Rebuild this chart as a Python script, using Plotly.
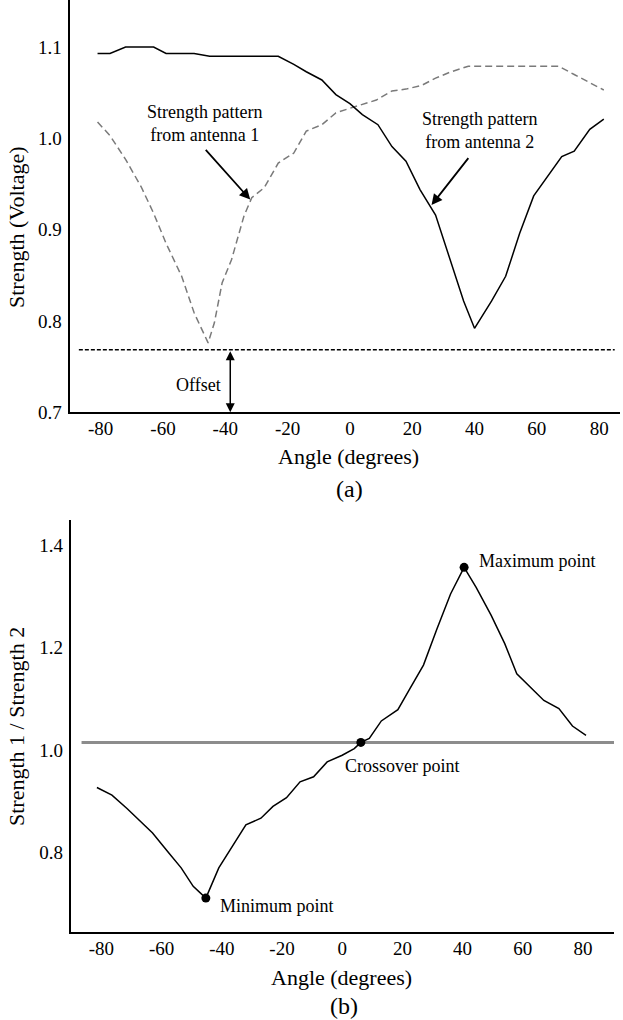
import plotly.graph_objects as go

# ---------------- data: panel (a) ----------------
ant1_angle = [-81, -77, -72, -67, -63, -59, -54, -50, -45.5, -43.5,
              -41, -38, -34, -31.5, -27.5, -23, -18, -14, -9, -4.5,
              0, 4, 8.5, 13.5, 18, 23, 27.5, 32.5, 38, 42,
              67, 72, 77, 81.5]
ant1_strength = [1.018, 1.003, 0.977, 0.947, 0.918, 0.885, 0.849, 0.809, 0.776, 0.798,
                 0.842, 0.867, 0.915, 0.935, 0.946, 0.973, 0.984, 1.008, 1.015, 1.028,
                 1.033, 1.037, 1.042, 1.052, 1.054, 1.058, 1.066, 1.073, 1.079, 1.079,
                 1.079, 1.070, 1.061, 1.053]

ant2_angle = [-81, -77, -72, -63, -59, -50, -45, -23, -18, -14,
              -9, -4.5, 0, 4, 9, 13.5, 18, 22.5, 27.5, 32,
              36.5, 40, 45.5, 50, 54.5, 59, 63.5, 68, 72, 77,
              81.5]
ant2_strength = [1.093, 1.093, 1.100, 1.100, 1.093, 1.093, 1.090, 1.090, 1.081, 1.073,
                 1.064, 1.048, 1.038, 1.026, 1.015, 0.991, 0.975, 0.944, 0.916, 0.869,
                 0.822, 0.792, 0.822, 0.849, 0.896, 0.937, 0.958, 0.980, 0.986, 1.010,
                 1.021]

offset_level = 0.7686
offset_x = [-87, 85]
offset_arrow_angle = -38.4

# ---------------- data: panel (b) ----------------
ratio_angle = [-81.5, -76.5, -71.5, -67.5, -63, -58, -53.5, -49.5, -45.3, -41,
               -36.5, -32, -27, -23, -18.5, -14, -9.5, -5, 0, 4,
               6.2, 9, 13, 18.5, 22.5, 27, 31.5, 36, 40.5, 44.5,
               49.5, 54, 58, 62.5, 67, 72, 76.5, 81]
ratio_value = [0.927, 0.912, 0.886, 0.864, 0.838, 0.802, 0.770, 0.734, 0.711, 0.770,
               0.812, 0.854, 0.867, 0.890, 0.907, 0.938, 0.948, 0.977, 0.990, 1.003,
               1.015, 1.023, 1.057, 1.079, 1.120, 1.166, 1.237, 1.305, 1.357, 1.318,
               1.263, 1.208, 1.149, 1.123, 1.097, 1.081, 1.047, 1.029]

key_angle = [-45.3, 6.2, 40.5]
key_value = [0.711, 1.015, 1.357]

crossover_level = 1.015
crossover_x = [-86.6, 90.3]

# ---------------- tick labels ----------------
x_tickvals = [-80, -60, -40, -20, 0, 20, 40, 60, 80]
x_ticktext = ["-80", "-60", "-40", "-20", "0", "20", "40", "60", "80"]
ya_tickvals = [0.7, 0.8, 0.9, 1.0, 1.1]
ya_ticktext = ["0.7", "0.8", "0.9", "1.0", "1.1"]
yb_tickvals = [0.8, 1.0, 1.2, 1.4]
yb_ticktext = ["0.8", "1.0", "1.2", "1.4"]

FONT = "Liberation Serif, Times New Roman, serif"
W, H = 623, 1020


def px(x):
    return x / W


def py(y):
    return 1 - y / H


fig = go.Figure()

# panel (a)
fig.add_trace(go.Scatter(x=ant1_angle, y=ant1_strength, mode="lines",
                         line=dict(color="#7a7a7a", width=1.5, dash="7px,4px"),
                         xaxis="x", yaxis="y", showlegend=False))
fig.add_trace(go.Scatter(x=ant2_angle, y=ant2_strength, mode="lines",
                         line=dict(color="black", width=1.5),
                         xaxis="x", yaxis="y", showlegend=False))
fig.add_trace(go.Scatter(x=offset_x, y=[offset_level, offset_level], mode="lines",
                         line=dict(color="black", width=1.5, dash="4px,2px"),
                         xaxis="x", yaxis="y", showlegend=False))

# panel (b)
fig.add_trace(go.Scatter(x=crossover_x, y=[crossover_level, crossover_level], mode="lines",
                         line=dict(color="#8c8c8c", width=3),
                         xaxis="x2", yaxis="y2", showlegend=False))
fig.add_trace(go.Scatter(x=ratio_angle, y=ratio_value, mode="lines",
                         line=dict(color="black", width=1.5),
                         xaxis="x2", yaxis="y2", showlegend=False))
fig.add_trace(go.Scatter(x=key_angle, y=key_value, mode="markers",
                         marker=dict(color="black", size=9),
                         xaxis="x2", yaxis="y2", showlegend=False))

axis_common = dict(showline=True, linecolor="black", linewidth=2, showgrid=False,
                   zeroline=False, ticks="", automargin=False,
                   tickfont=dict(family=FONT, size=19, color="black"))

fig.update_layout(
    template="none",
    width=W, height=H,
    margin=dict(l=0, r=0, t=0, b=0, pad=0),
    paper_bgcolor="white", plot_bgcolor="white",
    xaxis=dict(domain=[px(69.5), px(620)], range=[-90, 86.7], anchor="y",
               tickmode="array", tickvals=x_tickvals, ticktext=x_ticktext,
               ticklabelstandoff=-2, **axis_common),
    yaxis=dict(domain=[py(412.3), 1.0], range=[0.7, 1.1516], anchor="x",
               tickmode="array", tickvals=ya_tickvals, ticktext=ya_ticktext,
               ticklabelstandoff=2, **axis_common),
    xaxis2=dict(domain=[px(70.7), px(614)], range=[-90.2, 90.3], anchor="y2",
                tickmode="array", tickvals=x_tickvals, ticktext=x_ticktext,
                ticklabelstandoff=-2, **axis_common),
    yaxis2=dict(domain=[py(932), py(520)], range=[0.6448, 1.4494], anchor="x2",
                tickmode="array", tickvals=yb_tickvals, ticktext=yb_ticktext,
                ticklabelstandoff=2, **axis_common),
)

ann = []
tf = dict(family=FONT, size=18, color="black")
# panel (a) labels and arrows
ann.append(dict(x=-46.7, y=1.016, xref="x", yref="y", text="Strength pattern<br>from antenna 1",
                showarrow=False, font=tf, align="center", xanchor="center", yanchor="middle"))
ann.append(dict(x=41.6, y=1.0088, xref="x", yref="y", text="Strength pattern<br>from antenna 2",
                showarrow=False, font=tf, align="center", xanchor="center", yanchor="middle"))
ann.append(dict(x=-32, y=0.933, ax=-46.7, ay=0.989, xref="x", yref="y", axref="x", ayref="y",
                text="", showarrow=True, arrowhead=2, arrowsize=1.2, arrowwidth=1.8,
                arrowcolor="black"))
ann.append(dict(x=26.2, y=0.927, ax=38.4, ay=0.980, xref="x", yref="y", axref="x", ayref="y",
                text="", showarrow=True, arrowhead=2, arrowsize=1.2, arrowwidth=1.8,
                arrowcolor="black"))
ann.append(dict(x=offset_arrow_angle, y=0.7, ax=offset_arrow_angle, ay=offset_level,
                xref="x", yref="y", axref="x", ayref="y", text="", showarrow=True,
                arrowhead=2, startarrowhead=2, arrowside="end+start", arrowsize=1.2,
                arrowwidth=1.5, arrowcolor="black"))
ann.append(dict(x=-48.6, y=0.730, xref="x", yref="y", text="Offset", showarrow=False, font=tf,
                xanchor="center", yanchor="middle"))

# panel (b) labels
ann.append(dict(x=key_angle[2] + 4.2, y=1.370, xref="x2", yref="y2", text="Maximum point",
                showarrow=False, font=tf, xanchor="left", yanchor="middle"))
ann.append(dict(x=key_angle[1] - 6.1, y=0.969, xref="x2", yref="y2", text="Crossover point",
                showarrow=False, font=tf, xanchor="left", yanchor="middle"))
ann.append(dict(x=key_angle[0] + 4.0, y=0.696, xref="x2", yref="y2", text="Minimum point",
                showarrow=False, font=tf, xanchor="left", yanchor="middle"))

# axis titles and captions
titlef = dict(family=FONT, size=22, color="black")
capf = dict(family=FONT, size=24, color="black")
paper_ann = [
    (348.5, 457, "Angle (degrees)", titlef, 0),
    (349, 489, "(a)", capf, 0),
    (16, 227, "Strength (Voltage)", titlef, -90),
    (341.7, 977.7, "Angle (degrees)", titlef, 0),
    (343.7, 1006, "(b)", capf, 0),
    (16, 727, "Strength 1 / Strength 2", titlef, -90),
]
for x0, y0, txt, f, ang in paper_ann:
    ann.append(dict(x=px(x0), y=py(y0), xref="paper", yref="paper", text=txt,
                    showarrow=False, font=f, textangle=ang,
                    xanchor="center", yanchor="middle"))

fig.update_layout(annotations=ann)

fig.write_html("out.html", config={"displayModeBar": False},
               post_script="document.body.style.margin='0';document.body.style.overflow='hidden';")
